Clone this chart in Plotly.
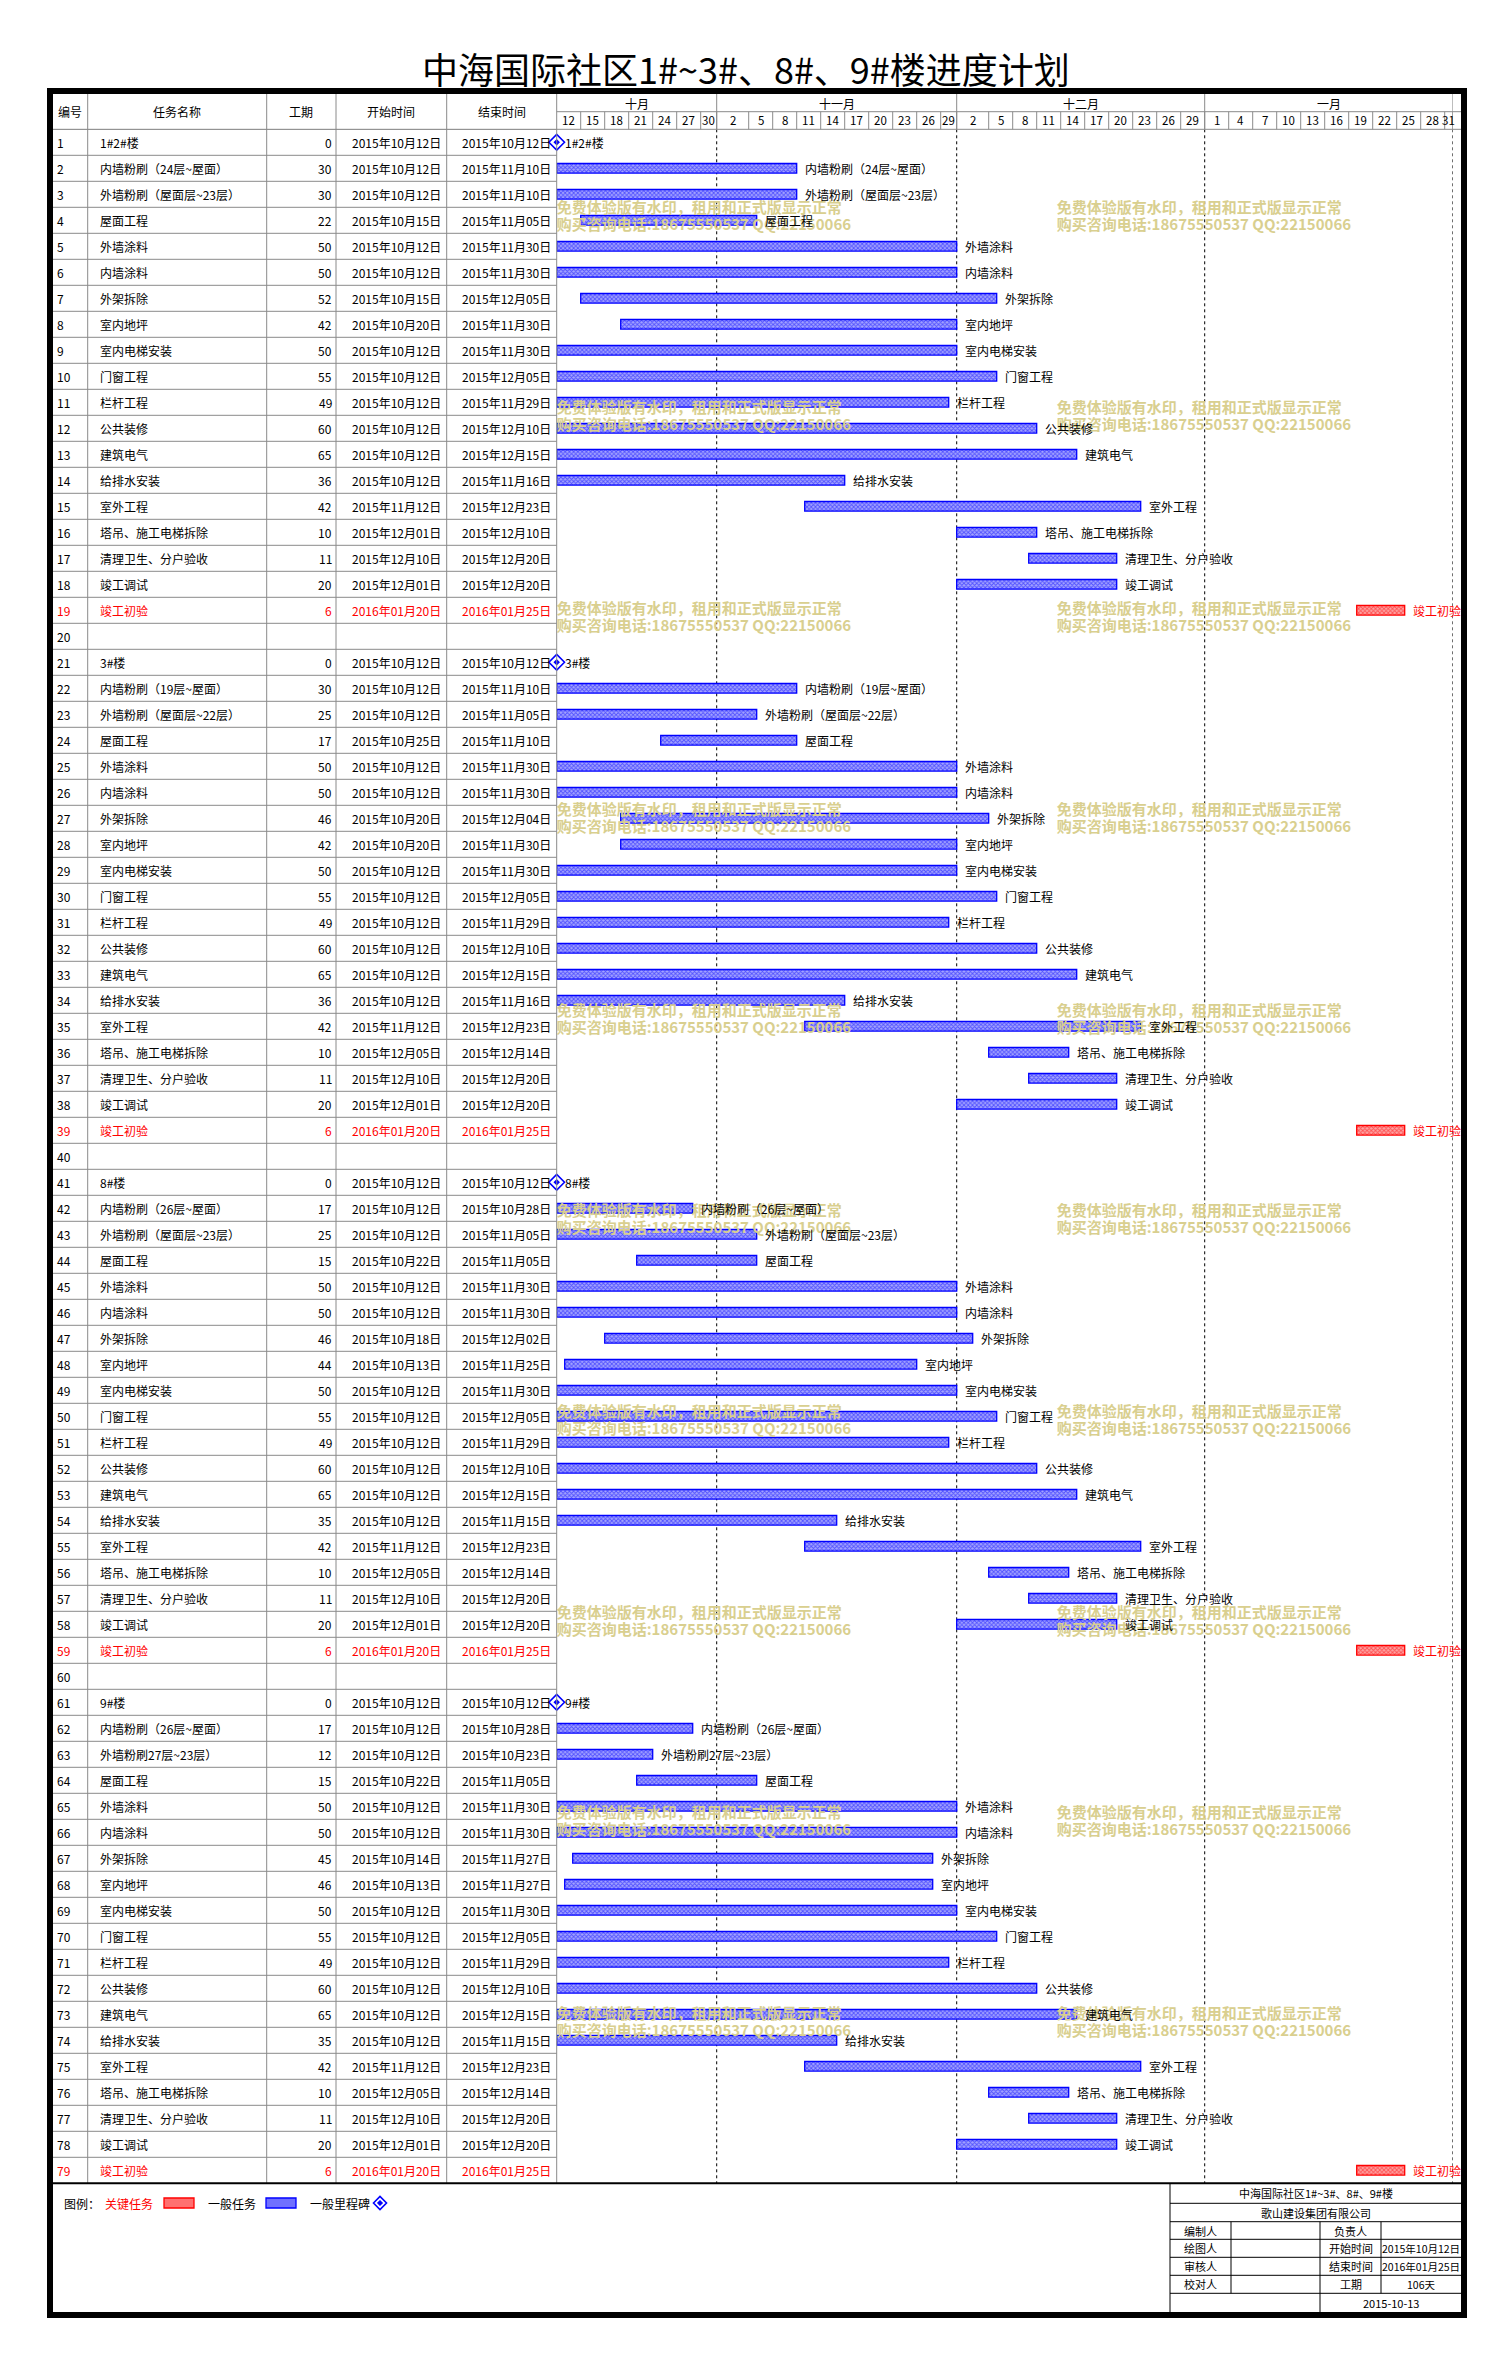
import plotly.graph_objects as go
from datetime import datetime, timedelta

# ---------------- data ----------------
title_text = "中海国际社区1#~3#、8#、9#楼进度计划"

task_ids = list(range(1, 80))
task_names = [
    "1#2#楼", "内墙粉刷（24层~屋面）", "外墙粉刷（屋面层~23层）", "屋面工程", "外墙涂料", "内墙涂料",
    "外架拆除", "室内地坪", "室内电梯安装", "门窗工程", "栏杆工程", "公共装修", "建筑电气", "给排水安装",
    "室外工程", "塔吊、施工电梯拆除", "清理卫生、分户验收", "竣工调试", "竣工初验", "",
    "3#楼", "内墙粉刷（19层~屋面）", "外墙粉刷（屋面层~22层）", "屋面工程", "外墙涂料", "内墙涂料",
    "外架拆除", "室内地坪", "室内电梯安装", "门窗工程", "栏杆工程", "公共装修", "建筑电气", "给排水安装",
    "室外工程", "塔吊、施工电梯拆除", "清理卫生、分户验收", "竣工调试", "竣工初验", "",
    "8#楼", "内墙粉刷（26层~屋面）", "外墙粉刷（屋面层~23层）", "屋面工程", "外墙涂料", "内墙涂料",
    "外架拆除", "室内地坪", "室内电梯安装", "门窗工程", "栏杆工程", "公共装修", "建筑电气", "给排水安装",
    "室外工程", "塔吊、施工电梯拆除", "清理卫生、分户验收", "竣工调试", "竣工初验", "",
    "9#楼", "内墙粉刷（26层~屋面）", "外墙粉刷27层~23层）", "屋面工程", "外墙涂料", "内墙涂料",
    "外架拆除", "室内地坪", "室内电梯安装", "门窗工程", "栏杆工程", "公共装修", "建筑电气", "给排水安装",
    "室外工程", "塔吊、施工电梯拆除", "清理卫生、分户验收", "竣工调试", "竣工初验",
]
durations = [
    0, 30, 30, 22, 50, 50, 52, 42, 50, 55, 49, 60, 65, 36, 42, 10, 11, 20, 6, None,
    0, 30, 25, 17, 50, 50, 46, 42, 50, 55, 49, 60, 65, 36, 42, 10, 11, 20, 6, None,
    0, 17, 25, 15, 50, 50, 46, 44, 50, 55, 49, 60, 65, 35, 42, 10, 11, 20, 6, None,
    0, 17, 12, 15, 50, 50, 45, 46, 50, 55, 49, 60, 65, 35, 42, 10, 11, 20, 6,
]
start_dates = [
    "2015-10-12", "2015-10-12", "2015-10-12", "2015-10-15", "2015-10-12", "2015-10-12", "2015-10-15",
    "2015-10-20", "2015-10-12", "2015-10-12", "2015-10-12", "2015-10-12", "2015-10-12", "2015-10-12",
    "2015-11-12", "2015-12-01", "2015-12-10", "2015-12-01", "2016-01-20", None,
    "2015-10-12", "2015-10-12", "2015-10-12", "2015-10-25", "2015-10-12", "2015-10-12", "2015-10-20",
    "2015-10-20", "2015-10-12", "2015-10-12", "2015-10-12", "2015-10-12", "2015-10-12", "2015-10-12",
    "2015-11-12", "2015-12-05", "2015-12-10", "2015-12-01", "2016-01-20", None,
    "2015-10-12", "2015-10-12", "2015-10-12", "2015-10-22", "2015-10-12", "2015-10-12", "2015-10-18",
    "2015-10-13", "2015-10-12", "2015-10-12", "2015-10-12", "2015-10-12", "2015-10-12", "2015-10-12",
    "2015-11-12", "2015-12-05", "2015-12-10", "2015-12-01", "2016-01-20", None,
    "2015-10-12", "2015-10-12", "2015-10-12", "2015-10-22", "2015-10-12", "2015-10-12", "2015-10-14",
    "2015-10-13", "2015-10-12", "2015-10-12", "2015-10-12", "2015-10-12", "2015-10-12", "2015-10-12",
    "2015-11-12", "2015-12-05", "2015-12-10", "2015-12-01", "2016-01-20",
]
end_dates = [
    "2015-10-12", "2015-11-10", "2015-11-10", "2015-11-05", "2015-11-30", "2015-11-30", "2015-12-05",
    "2015-11-30", "2015-11-30", "2015-12-05", "2015-11-29", "2015-12-10", "2015-12-15", "2015-11-16",
    "2015-12-23", "2015-12-10", "2015-12-20", "2015-12-20", "2016-01-25", None,
    "2015-10-12", "2015-11-10", "2015-11-05", "2015-11-10", "2015-11-30", "2015-11-30", "2015-12-04",
    "2015-11-30", "2015-11-30", "2015-12-05", "2015-11-29", "2015-12-10", "2015-12-15", "2015-11-16",
    "2015-12-23", "2015-12-14", "2015-12-20", "2015-12-20", "2016-01-25", None,
    "2015-10-12", "2015-10-28", "2015-11-05", "2015-11-05", "2015-11-30", "2015-11-30", "2015-12-02",
    "2015-11-25", "2015-11-30", "2015-12-05", "2015-11-29", "2015-12-10", "2015-12-15", "2015-11-15",
    "2015-12-23", "2015-12-14", "2015-12-20", "2015-12-20", "2016-01-25", None,
    "2015-10-12", "2015-10-28", "2015-10-23", "2015-11-05", "2015-11-30", "2015-11-30", "2015-11-27",
    "2015-11-27", "2015-11-30", "2015-12-05", "2015-11-29", "2015-12-10", "2015-12-15", "2015-11-15",
    "2015-12-23", "2015-12-14", "2015-12-20", "2015-12-20", "2016-01-25",
]
critical_ids = [19, 39, 59, 79]

header_labels = ["编号", "任务名称", "工期", "开始时间", "结束时间"]
month_labels = ["十月", "十一月", "十二月", "一月"]
month_starts = ["2015-10-12", "2015-11-01", "2015-12-01", "2016-01-01", "2016-02-01"]
day_labels = ["12", "15", "18", "21", "24", "27", "30",
              "2", "5", "8", "11", "14", "17", "20", "23", "26", "29",
              "2", "5", "8", "11", "14", "17", "20", "23", "26", "29",
              "1", "4", "7", "10", "13", "16", "19", "22", "25", "28", "31"]
day_col_starts = ["2015-10-12", "2015-10-15", "2015-10-18", "2015-10-21", "2015-10-24", "2015-10-27", "2015-10-30",
                  "2015-11-01", "2015-11-05", "2015-11-08", "2015-11-11", "2015-11-14", "2015-11-17", "2015-11-20",
                  "2015-11-23", "2015-11-26", "2015-11-29",
                  "2015-12-01", "2015-12-05", "2015-12-08", "2015-12-11", "2015-12-14", "2015-12-17", "2015-12-20",
                  "2015-12-23", "2015-12-26", "2015-12-29",
                  "2016-01-01", "2016-01-04", "2016-01-07", "2016-01-10", "2016-01-13", "2016-01-16", "2016-01-19",
                  "2016-01-22", "2016-01-25", "2016-01-28", "2016-01-31", "2016-02-01"]

watermark_lines = ["免费体验版有水印，租用和正式版显示正常", "购买咨询电话:18675550537 QQ:22150066"]

legend_items = ["图例：", "关键任务", "一般任务", "一般里程碑"]
info_title = "中海国际社区1#~3#、8#、9#楼"
info_company = "歌山建设集团有限公司"
info_left = ["编制人", "绘图人", "审核人", "校对人"]
info_mid = ["负责人", "开始时间", "结束时间", "工期"]
info_right = ["", "2015年10月12日", "2016年01月25日", "106天"]
info_date = "2015-10-13"

# ---------------- layout constants (pixels) ----------------
W, H = 1512, 2363
FONT = "Noto Sans CJK SC, sans-serif"
IN_L, IN_R, IN_T, IN_B = 53, 1461, 94, 2312
HDR_MID, HDR_BOT = 111.7, 129.3
ROW_H = 26.0
N = len(task_ids)
TBL_BOT = HDR_BOT + N * ROW_H
COLS = [53, 87.7, 266.7, 336, 446.7, 556.7]
TL_L, TL_R = 556.7, 1452.7
GRID = "#8a8a8a"
BLUE = "#0000FF"
RED = "#FF0000"


def PX(x):
    return x / W


def PY(y):
    return 1 - y / H


def D(s):
    return datetime.strptime(s, "%Y-%m-%d")


def cn_date(s):
    dt = D(s)
    return f"{dt.year}年{dt.month:02d}月{dt.day:02d}日"


def row_of_px(y):
    return (y - HDR_BOT) / ROW_H + 0.5


x0_date = D(month_starts[0])
x1_date = D(month_starts[-1])
px_per_day = (TL_R - TL_L) / (x1_date - x0_date).days


def date_of_px(x):
    return x0_date + timedelta(days=(x - TL_L) / px_per_day)


fig = go.Figure()

# ---------------- watermark (under bars) ----------------
wm_x, wm_y, wm_t = [], [], []
for k in range(10):
    y1 = 209 + 200.7 * k
    for xb in (TL_L, TL_L + 500):
        for j, line_txt in enumerate(watermark_lines):
            wm_x.append(date_of_px(xb).strftime("%Y-%m-%d %H:%M:%S"))
            wm_y.append(row_of_px(y1 + 17 * j))
            wm_t.append(line_txt)
fig.add_trace(go.Scatter(x=wm_x, y=wm_y, text=wm_t, mode="text", textposition="middle right",
                         textfont=dict(size=15, color="#D9CF8F", family=FONT, weight="bold"),
                         hoverinfo="skip", showlegend=False, cliponaxis=False))


# ---------------- bars ----------------
def bar_trace(ids, color, bg):
    ys, xs, bases = [], [], []
    for i in ids:
        s, e = start_dates[i - 1], end_dates[i - 1]
        ys.append(i)
        bases.append(s)
        xs.append(((D(e) + timedelta(days=1)) - D(s)).total_seconds() * 1000)
    return go.Bar(x=xs, y=ys, base=bases, orientation="h", width=0.37,
                  marker=dict(color=bg, line=dict(color=color, width=1.3),
                              pattern=dict(shape="x", fgcolor=color, bgcolor=bg, size=3, solidity=0.5)),
                  hoverinfo="skip", showlegend=False)


normal_ids = [i for i in task_ids if durations[i - 1] and i not in critical_ids]
crit_ids = [i for i in task_ids if durations[i - 1] and i in critical_ids]
mile_ids = [i for i in task_ids if durations[i - 1] == 0]
fig.add_trace(bar_trace(normal_ids, BLUE, "#A4A4FF"))
fig.add_trace(bar_trace(crit_ids, RED, "#FFA4A4"))

# milestones
fig.add_trace(go.Scatter(x=[start_dates[i - 1] for i in mile_ids], y=mile_ids, mode="markers",
                         marker=dict(symbol="diamond", size=12, color="white", line=dict(color=BLUE, width=1.6)),
                         hoverinfo="skip", showlegend=False, cliponaxis=False))
fig.add_trace(go.Scatter(x=[start_dates[i - 1] for i in mile_ids], y=mile_ids, mode="markers",
                         marker=dict(symbol="diamond", size=5, color=BLUE),
                         hoverinfo="skip", showlegend=False, cliponaxis=False))

ann = []
shapes = []


def text(x, y, t, xref="paper", yref="paper", xanchor="center", size=12, color="black", xshift=0, weight=None):
    f = dict(size=size, color=color, family=FONT)
    if weight:
        f["weight"] = weight
    ann.append(dict(x=x, y=y, xref=xref, yref=yref, text=t, showarrow=False, xanchor=xanchor,
                    yanchor="middle", font=f, xshift=xshift))


def line(x0, y0, x1, y1, color=GRID, width=1, xref="paper", yref="paper", dash=None, layer="above"):
    ln = dict(color=color, width=width)
    if dash:
        ln["dash"] = dash
    shapes.append(dict(type="line", x0=x0, y0=y0, x1=x1, y1=y1, xref=xref, yref=yref, line=ln, layer=layer))


# bar / milestone labels
for i in task_ids:
    d = durations[i - 1]
    if d is None:
        continue
    col = RED if i in critical_ids else "black"
    if d == 0:
        text(start_dates[i - 1], i, task_names[i - 1], xref="x", yref="y", xanchor="left", color=col, xshift=6)
    else:
        xe = (D(end_dates[i - 1]) + timedelta(days=1)).strftime("%Y-%m-%d")
        text(xe, i, task_names[i - 1], xref="x", yref="y", xanchor="left", color=col, xshift=6)

# table text
for i in task_ids:
    col = RED if i in critical_ids else "black"
    text(PX(55), i, str(i), yref="y", xanchor="left", color=col)
    if task_names[i - 1]:
        text(PX(98), i, task_names[i - 1], yref="y", xanchor="left", color=col)
    if durations[i - 1] is not None:
        text(PX(334), i, str(durations[i - 1]), yref="y", xanchor="right", color=col)
        text(PX(443), i, cn_date(start_dates[i - 1]), yref="y", xanchor="right", color=col)
        text(PX(553), i, cn_date(end_dates[i - 1]), yref="y", xanchor="right", color=col)

# header
for k, lab in enumerate(header_labels):
    text(PX((COLS[k] + COLS[k + 1]) / 2), PY(HDR_MID), lab, size=12)
for k, lab in enumerate(month_labels):
    a, b = D(month_starts[k]), D(month_starts[k + 1])
    text((a + (b - a) / 2).strftime("%Y-%m-%d %H:%M"), PY(103), lab, xref="x", size=12)
for k, lab in enumerate(day_labels):
    a, b = D(day_col_starts[k]), D(day_col_starts[k + 1])
    text((a + (b - a) / 2).strftime("%Y-%m-%d %H:%M"), PY(120.5), lab, xref="x", size=11.5)

# title
text(PX(746), PY(68), title_text, size=36)

# ---------------- grid lines ----------------
for k in range(N):
    line(PX(COLS[0]), k + 0.5, PX(COLS[-1]), k + 0.5, yref="y")
for xc in COLS[1:]:
    line(PX(xc), PY(IN_T), PX(xc), PY(TBL_BOT))
line(PX(TL_L), PY(HDR_MID), PX(IN_R), PY(HDR_MID))
line(PX(IN_L), PY(HDR_BOT), PX(IN_R), PY(HDR_BOT))
for ms in month_starts[1:]:
    line(ms, PY(IN_T), ms, PY(HDR_BOT), xref="x")
for ds in day_col_starts[1:]:
    line(ds, PY(HDR_MID), ds, PY(HDR_BOT), xref="x")
for ms in month_starts[1:]:
    line(ms, 0.5, ms, N + 0.5, color="black", xref="x", yref="y", dash="dot", layer="below")
line(PX(IN_L), PY(TBL_BOT), PX(IN_R), PY(TBL_BOT), color="black", width=2)

# ---------------- legend ----------------
LY = 2203
text(PX(62), PY(LY), legend_items[0], xanchor="left")
text(PX(103), PY(LY), legend_items[1], xanchor="left", color=RED)
shapes.append(dict(type="rect", xref="paper", yref="paper", x0=PX(164), x1=PX(194), y0=PY(LY - 5), y1=PY(LY + 5),
                   fillcolor="#FF7070", line=dict(color=RED, width=1.3)))
text(PX(206), PY(LY), legend_items[2], xanchor="left")
shapes.append(dict(type="rect", xref="paper", yref="paper", x0=PX(266), x1=PX(296), y0=PY(LY - 5), y1=PY(LY + 5),
                   fillcolor="#7070FF", line=dict(color=BLUE, width=1.3)))
text(PX(308), PY(LY), legend_items[3], xanchor="left")


def diamond_path(cx, cy, r):
    return (f"M {PX(cx - r)},{PY(cy)} L {PX(cx)},{PY(cy - r)} L {PX(cx + r)},{PY(cy)} "
            f"L {PX(cx)},{PY(cy + r)} Z")


shapes.append(dict(type="path", xref="paper", yref="paper", path=diamond_path(380, LY, 6.5),
                   fillcolor="white", line=dict(color=BLUE, width=1.6)))
shapes.append(dict(type="path", xref="paper", yref="paper", path=diamond_path(380, LY, 2.8),
                   fillcolor=BLUE, line=dict(color=BLUE, width=0.5)))

# ---------------- info box ----------------
IB_L = 1170
IB_C = [1170, 1231, 1320, 1381, IN_R]
IB_R = [TBL_BOT, 2203.3, 2221.7, 2239.3, 2257.3, 2275.3, 2293.3, IN_B]
line(PX(IB_L), PY(IB_R[0]), PX(IB_L), PY(IB_R[-1]), color="black")
for yy in IB_R[1:-1]:
    line(PX(IB_L), PY(yy), PX(IN_R), PY(yy), color="black")
for xc in (IB_C[1], IB_C[3]):
    line(PX(xc), PY(IB_R[2]), PX(xc), PY(IB_R[6]), color="black")
line(PX(IB_C[2]), PY(IB_R[2]), PX(IB_C[2]), PY(IB_R[7]), color="black")

IFS = 11
text(PX((IB_L + IN_R) / 2), PY((IB_R[0] + IB_R[1]) / 2), info_title, size=IFS)
text(PX((IB_L + IN_R) / 2), PY((IB_R[1] + IB_R[2]) / 2), info_company, size=IFS)
for r in range(4):
    yc = PY((IB_R[2 + r] + IB_R[3 + r]) / 2)
    text(PX((IB_C[0] + IB_C[1]) / 2), yc, info_left[r], size=IFS)
    text(PX((IB_C[2] + IB_C[3]) / 2), yc, info_mid[r], size=IFS)
    if info_right[r]:
        text(PX((IB_C[3] + IB_C[4]) / 2), yc, info_right[r], size=10.5)
text(PX((IB_C[2] + IB_C[4]) / 2), PY((IB_R[6] + IB_R[7]) / 2), info_date, size=IFS)

# ---------------- frame ----------------
shapes.append(dict(type="rect", xref="paper", yref="paper", x0=PX(50), x1=PX(1464), y0=PY(91), y1=PY(2315),
                   line=dict(color="black", width=6), fillcolor="rgba(0,0,0,0)"))

fig.update_layout(
    width=W, height=H, autosize=False,
    margin=dict(l=0, r=0, t=0, b=0, pad=0),
    paper_bgcolor="white", plot_bgcolor="rgba(0,0,0,0)",
    barmode="overlay",
    font=dict(family=FONT, size=12, color="black"),
    xaxis=dict(type="date", range=[month_starts[0], month_starts[-1]], domain=[PX(TL_L), PX(TL_R)],
               visible=False, fixedrange=True),
    yaxis=dict(range=[N + 0.5, 0.5], domain=[PY(TBL_BOT), PY(HDR_BOT)], visible=False, fixedrange=True),
    shapes=shapes,
    annotations=ann,
    showlegend=False,
)

fig.write_html("out.html", config={"displayModeBar": False, "staticPlot": True},
               post_script="document.body.style.margin='0';document.body.style.overflow='hidden';")
